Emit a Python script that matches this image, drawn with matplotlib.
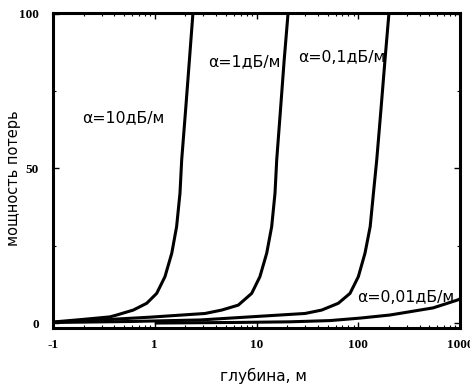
import numpy as np
import matplotlib
matplotlib.use('Agg')
import matplotlib.pyplot as plt
from matplotlib.font_manager import FontProperties
from matplotlib.ticker import FixedLocator, NullFormatter

# depth (m) and loss power for each attenuation
x_a10 = [0.105, 0.2, 0.363, 0.423, 0.615, 0.834, 1.045, 1.26, 1.47, 1.64, 1.77, 1.84, 2.01, 2.19, 2.37]
y_a10 = [0.4, 1.2, 2.0, 2.6, 4.2, 6.4, 9.6, 15.0, 22.6, 31.2, 42.0, 52.8, 68.9, 85, 100]

x_a1 = [0.105, 0.29, 0.90, 3.12, 4.55, 6.62, 8.97, 10.8, 12.6, 14.1, 15.2, 15.8, 17.2, 18.7, 20.4]
y_a1 = [0.3, 1.0, 1.9, 3.1, 4.2, 5.8, 9.6, 15.0, 22.6, 31.2, 42.0, 52.8, 68.9, 85, 100]

x_a01 = [0.11, 0.57, 2.79, 30.0, 43.7, 63.7, 83.0, 100.2, 116.5, 131, 141, 152, 167, 183, 200]
y_a01 = [0.2, 0.5, 1.0, 3.1, 4.2, 6.4, 9.6, 15.0, 22.6, 31.2, 42.0, 52.8, 68.9, 85, 100]

x_a001 = [1.0, 6.4, 21.3, 52.8, 104, 205, 543, 935, 1000]
y_a001 = [0.0, 0.2, 0.4, 0.8, 1.6, 2.6, 4.9, 7.4, 7.8]

xticks = [0.1, 1, 10, 100, 1000]
xtick_labels = ['-1', '1', '10', '100', '1000']
yticks = [0, 50, 100]

fig = plt.figure(figsize=(4.7, 3.84), dpi=100)
ax = fig.add_axes([53/470, 56/384, 407/470, 315/384])

lw = 2.2
for xs, ys in [(x_a10, y_a10), (x_a1, y_a1), (x_a01, y_a01), (x_a001, y_a001)]:
    ax.plot(xs, ys, color='black', lw=lw, solid_capstyle='butt', solid_joinstyle='round')

ax.set_xscale('log')
ax.set_xlim(0.1, 1000)
ax.set_ylim(-1.6, 100.3)

ax.set_xticks(xticks)
ax.set_xticklabels(xtick_labels)
ax.xaxis.set_minor_formatter(NullFormatter())
ax.set_yticks(yticks)
ax.yaxis.set_minor_locator(FixedLocator([25, 75]))

tick_font = FontProperties(family='Liberation Serif', weight='bold', size=9.5)
for lab in ax.get_xticklabels() + ax.get_yticklabels():
    lab.set_fontproperties(tick_font)

ax.tick_params(which='major', direction='in', length=4, width=1, top=True, right=True, pad=8)
ax.tick_params(which='minor', direction='in', length=2.5, width=0.8, top=True, right=True)
ax.tick_params(axis='y', pad=10)

for s in ax.spines.values():
    s.set_linewidth(2.2)

ax.set_xlabel('глубина, м', fontsize=11, family='DejaVu Sans')
ax.xaxis.set_label_coords(0.516, -0.125)
ax.set_ylabel('мощность потерь', fontsize=10.5, family='DejaVu Sans')
ax.yaxis.set_label_coords(-0.078, 0.476)

ann = dict(fontsize=11.3, family='DejaVu Sans', va='center', ha='left', transform=ax.transAxes)
ax.text(0.071, 0.667, 'α=10дБ/м', **ann)
ax.text(0.381, 0.844, 'α=1дБ/м', **ann)
ax.text(0.602, 0.860, 'α=0,1дБ/м', **ann)
ax.text(0.747, 0.098, 'α=0,01дБ/м', **ann)

fig.savefig('out.png', dpi=100)
